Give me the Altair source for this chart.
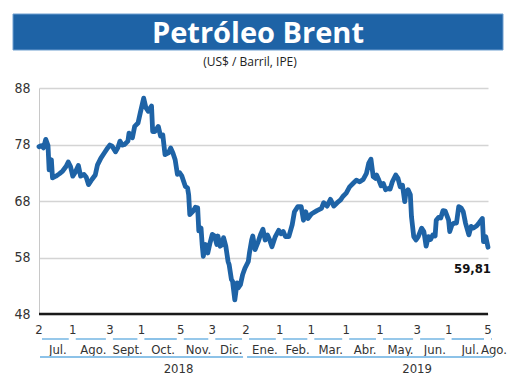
import altair as alt
import pandas as pd

# ---- data ----
start_date = "2018-07-02"
day = [0, 2, 4, 6, 8, 9, 11, 12, 15, 18,
       21, 24, 26, 28, 30, 32, 35, 37, 40, 42,
       44, 47, 50, 52, 55, 58, 61, 63, 65, 68,
       70, 72, 74, 76, 79, 80, 83, 85, 88, 90,
       93, 95, 97, 100, 101, 103, 106, 108, 110, 112,
       115, 117, 119, 121, 123, 125, 127, 130, 132, 133,
       134, 137, 139, 141, 142, 144, 145, 146, 148, 150,
       152, 154, 156, 158, 159, 161, 163, 164, 166, 168,
       169, 171, 172, 174, 176, 177, 179, 181, 183, 186,
       187, 189, 190, 192, 195, 197, 199, 201, 203, 205,
       207, 210, 213, 215, 217, 219, 222, 225, 227, 230,
       233, 235, 237, 239, 242, 247, 251, 253, 256, 259,
       262, 265, 268, 270, 273, 276, 279, 282, 285, 288,
       291, 293, 295, 297, 299, 300, 302, 304, 306, 308,
       310, 312, 314, 317, 319, 321, 323, 325, 326, 328,
       330, 331, 333, 335, 337, 340, 342, 344, 346, 348,
       350, 352, 353, 355, 357, 359, 361, 364, 365, 367,
       369, 371, 373, 375, 377, 379, 382, 384, 386, 389,
       391, 394, 395, 397, 399]
price = [77.6, 77.8, 77.4, 78.9, 77.8, 73.5, 75.3, 72.1, 72.4, 72.8,
         73.3, 74.1, 74.9, 74.1, 72.4, 73.0, 74.3, 72.4, 72.7, 72.2,
         70.9, 71.8, 72.6, 74.4, 75.6, 76.5, 77.4, 77.9, 77.7, 76.7,
         77.4, 78.6, 77.9, 78.0, 78.6, 80.0, 79.2, 81.2, 81.8, 83.6,
         86.2, 84.5, 83.9, 84.8, 80.3, 80.3, 81.2, 79.5, 79.7, 76.2,
         76.5, 77.4, 76.5, 75.3, 72.7, 73.0, 72.4, 70.6, 70.3, 69.1,
         65.6, 66.2, 66.9, 66.8, 62.7, 63.2, 60.3, 58.2, 60.3, 58.8,
         60.6, 62.1, 61.8, 60.3, 61.8, 60.0, 60.3, 61.5, 60.0, 57.3,
         56.7, 54.1, 53.8, 50.5, 53.5, 52.6, 53.2, 55.0, 56.1, 57.3,
         58.8, 61.1, 61.8, 59.4, 60.9, 62.1, 63.0, 61.1, 62.0, 61.1,
         59.9, 61.7, 62.8, 62.2, 62.6, 61.7, 61.7, 63.8, 66.1, 67.0,
         67.0, 64.6, 66.1, 64.9, 65.7, 66.3, 66.7, 67.7, 67.1, 68.3,
         67.1, 67.7, 68.2, 68.8, 69.4, 70.5, 71.1, 71.7, 71.4, 71.8,
         72.9, 74.7, 75.4, 72.3, 72.0, 72.6, 71.7, 70.7, 71.1, 70.0,
         70.2, 70.1, 71.4, 72.6, 72.0, 70.5, 70.8, 67.9, 69.4, 70.0,
         69.1, 65.2, 61.7, 61.1, 61.7, 63.2, 62.6, 60.0, 61.7, 61.2,
         62.0, 61.8, 64.6, 65.1, 65.0, 66.3, 66.2, 64.6, 62.6, 63.8,
         64.1, 64.1, 67.0, 66.8, 66.1, 64.1, 62.0, 63.5, 63.2, 63.6,
         64.1, 64.9, 60.8, 61.7, 59.81]
last_label = "59,81"

tick_dates = ["2018-07-02", "2018-08-01", "2018-09-03", "2018-10-01", "2018-11-05",
              "2018-12-03", "2019-01-02", "2019-02-01", "2019-03-01", "2019-04-01",
              "2019-05-01", "2019-06-03", "2019-07-01", "2019-08-05"]
tick_labels = ["2", "1", "3", "1", "5", "3", "2", "1", "1", "1", "1", "3", "1", "5"]
months = ["Jul.", "Ago.", "Sept.", "Oct.", "Nov.", "Dic.", "Ene.", "Feb.", "Mar.",
          "Abr.", "May.", "Jun.", "Jul.", "Ago."]
last_month_end = "2019-08-12"
years = ["2018", "2019"]
year_starts = ["2018-07-02", "2019-01-02"]
year_ends = ["2019-01-02", "2019-08-12"]
year_label_dates = ["2018-11-03", "2019-06-03"]
y_ticks = [48, 58, 68, 78, 88]

title_text = "Petróleo Brent"
subtitle_text = "(US$ / Barril, IPE)"

# ---- tables ----
base = pd.Timestamp(start_date)
df = pd.DataFrame({"date": base + pd.to_timedelta(day, unit="D"), "price": price})
df_last = df.tail(1).assign(label=last_label)

seg_start = pd.to_datetime(tick_dates)
seg_end = pd.to_datetime(tick_dates[1:] + [last_month_end])
df_months = pd.DataFrame({"start": seg_start, "end": seg_end, "month": months,
                          "mid": seg_start + (seg_end - seg_start) / 2})
df_ticks = pd.DataFrame({"date": pd.to_datetime(tick_dates), "label": tick_labels})
df_years = pd.DataFrame({"start": pd.to_datetime(year_starts), "end": pd.to_datetime(year_ends),
                         "year": years, "pos": pd.to_datetime(year_label_dates)})

NARROW = "Liberation Sans Narrow, DejaVu Sans Condensed, Roboto Condensed, Roboto, sans-serif"
BLUE = "#1e63a6"
LIGHT = "#8cc2e8"
TXT = "#333333"

xscale = alt.Scale(domain=[alt.DateTime(year=2018, month=7, date=2),
                           alt.DateTime(year=2019, month=8, date=5)], nice=False)
yscale = alt.Scale(domain=[48, 88], nice=False, zero=False)

one = pd.DataFrame({"t": [title_text], "s": [subtitle_text]})

banner = alt.Chart(one).mark_rect(color=BLUE, stroke="#6f9fd0", strokeWidth=1).encode(
    x=alt.value(-26), x2=alt.value(464), y=alt.value(-74), y2=alt.value(-38))
title = alt.Chart(one).mark_text(font="Open Sans", fontWeight="bold", fontSize=29,
                                 color="white", align="center", baseline="alphabetic").encode(
    text="t:N", x=alt.value(219), y=alt.value(-45))
subtitle = alt.Chart(one).mark_text(font="Open Sans", fontSize=12, color="#222",
                                    align="center", baseline="middle").encode(
    text="s:N", x=alt.value(211), y=alt.value(-26))

line = alt.Chart(df).mark_line(color=BLUE, strokeWidth=4.8, strokeJoin="round",
                               strokeCap="round").encode(
    x=alt.X("date:T", scale=xscale, axis=None),
    y=alt.Y("price:Q", scale=yscale,
            axis=alt.Axis(values=y_ticks, title=None, grid=True, gridColor="#d4d4d4",
                          gridWidth=1.3, domainColor="#c8c8c8", domainWidth=1, ticks=False,
                          labelPadding=9, labelFont=NARROW, labelFontSize=14,
                          labelColor=TXT)))

baseline_rule = alt.Chart(one).mark_rule(color="#1a1a1a", strokeWidth=2.5).encode(
    y=alt.Y(datum=48, scale=yscale))

end_label = alt.Chart(df_last).mark_text(font=NARROW, fontWeight="bold", fontSize=13,
                                         color="#111", align="right", dx=3, dy=22,
                                         baseline="middle").encode(
    x=alt.X("date:T", scale=xscale), y=alt.Y("price:Q", scale=yscale), text="label:N")

tick_text = alt.Chart(df_ticks).mark_text(font=NARROW, fontSize=13, color=TXT,
                                          align="center", baseline="middle").encode(
    x=alt.X("date:T", scale=xscale), y=alt.value(242), text="label:N")

month_segs = alt.Chart(df_months).mark_rule(color=LIGHT, strokeWidth=1.8,
                                             xOffset=3, x2Offset=-4).encode(
    x=alt.X("start:T", scale=xscale), x2="end:T", y=alt.value(251))

month_text = alt.Chart(df_months).mark_text(font=NARROW, fontSize=13, color=TXT,
                                            align="center", baseline="middle", dx=2).encode(
    x=alt.X("mid:T", scale=xscale), y=alt.value(262), text="month:N")

year_segs = alt.Chart(df_years).mark_rule(color=LIGHT, strokeWidth=1.8,
                                          xOffset=1, x2Offset=-3).encode(
    x=alt.X("start:T", scale=xscale), x2="end:T", y=alt.value(269))

year_text = alt.Chart(df_years).mark_text(font=NARROW, fontSize=13, color=TXT,
                                          align="center", baseline="middle").encode(
    x=alt.X("pos:T", scale=xscale), y=alt.value(281), text="year:N")

chart = alt.layer(
    banner, title, subtitle, line, baseline_rule, end_label,
    tick_text, month_segs, month_text, year_segs, year_text
).properties(
    width=449, height=226, autosize="none",
    padding={"left": 31, "top": 80, "right": 24, "bottom": 68}
).configure_view(stroke=None)

chart.save("out.html", embed_options={"renderer": "svg", "actions": False})
